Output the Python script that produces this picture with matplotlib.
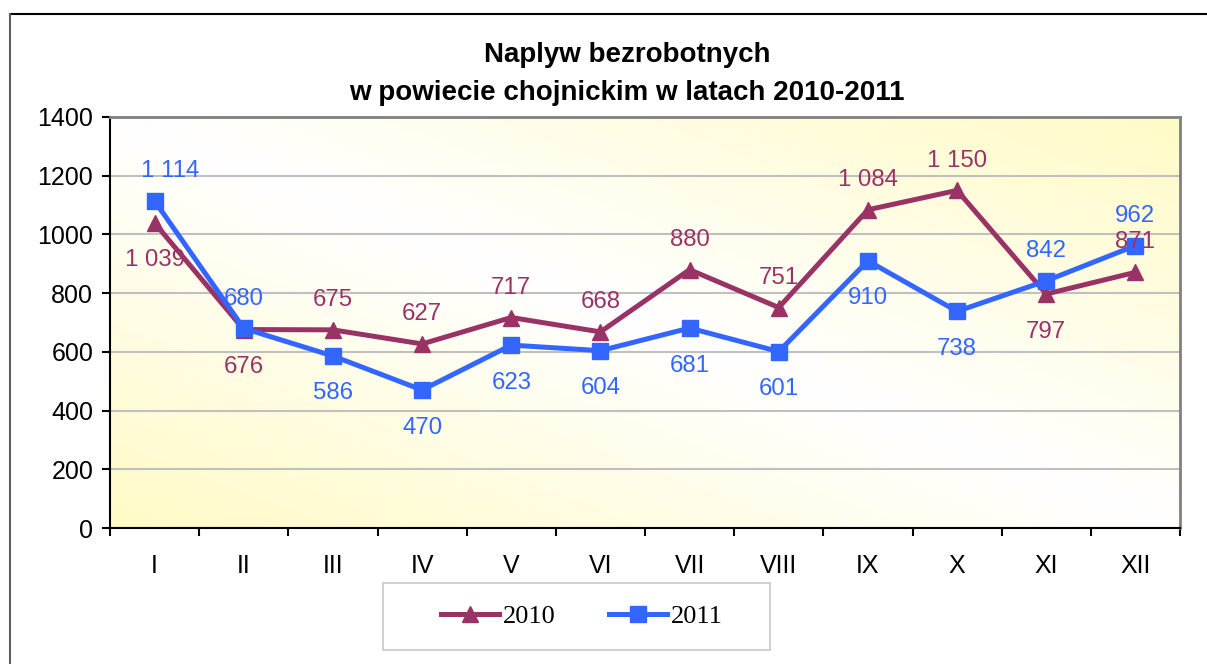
import numpy as np
import matplotlib
matplotlib.use('Agg')
import matplotlib.pyplot as plt
from matplotlib.lines import Line2D
from matplotlib.patches import Rectangle

plt.rcParams['font.family'] = ['Liberation Sans', 'DejaVu Sans']

months = ['I', 'II', 'III', 'IV', 'V', 'VI', 'VII', 'VIII', 'IX', 'X', 'XI', 'XII']
v2010 = [1039, 676, 675, 627, 717, 668, 880, 751, 1084, 1150, 797, 871]
v2011 = [1114, 680, 586, 470, 623, 604, 681, 601, 910, 738, 842, 962]
# label above (1) or below (-1) the point
pos2010 = [-1, -1, 1, 1, 1, 1, 1, 1, 1, 1, -1, 1]
pos2011 = [1, 1, -1, -1, -1, -1, -1, -1, -1, -1, 1, 1]

c2010 = '#993366'
c2011 = '#3366FF'

W, H = 1207, 664
fig = plt.figure(figsize=(W/100, H/100), dpi=100)
ax = fig.add_axes([110/W, 136/H, 1070/W, 411/H])

# diagonal gradient background: yellow in bottom-left and top-right corners
n = 200
gx, gy = np.meshgrid(np.linspace(0, 1, n), np.linspace(0, 1, n))
d = np.abs(gx + gy - 1)
yel = np.array([255, 251, 198]) / 255
img = np.ones((n, n, 3)) * (1 - d[..., None]) + yel * d[..., None]
ax.imshow(img, extent=[0, 1, 0, 1], transform=ax.transAxes, origin='lower',
          aspect='auto', zorder=0)

x = np.arange(len(months))
ax.set_xlim(-0.5, 11.5)
ax.set_ylim(0, 1400)
ax.set_yticks(range(0, 1401, 200))
ax.grid(axis='y', color='#C0C0C0', lw=1.5, zorder=1)
ax.set_axisbelow(True)

ax.plot(x, v2010, color=c2010, lw=3.6, marker='^', ms=11, zorder=3, label='2010')
ax.plot(x, v2011, color=c2011, lw=3.6, marker='s', ms=11, zorder=4, label='2011')

def fmt(v):
    return f'{v:,}'.replace(',', ' ')

for i, (v, p) in enumerate(zip(v2010, pos2010)):
    ax.annotate(fmt(v), (i, v), xytext=(0, 21.5 if p > 0 else -27),
                textcoords='offset points', ha='center', va='center',
                color=c2010, fontsize=17.3, zorder=5)
for i, (v, p) in enumerate(zip(v2011, pos2011)):
    dx = 11.5 if i == 0 else 0
    ax.annotate(fmt(v), (i, v), xytext=(dx, 21.5 if p > 0 else -27),
                textcoords='offset points', ha='center', va='center',
                color=c2011, fontsize=17.3, zorder=5)

ax.set_xticks(x)
ax.set_xticklabels(months)
ax.set_xticks(np.arange(-0.5, 12, 1), minor=True)
ax.tick_params(axis='x', which='major', length=0, pad=19, labelsize=18)
ax.tick_params(axis='x', which='minor', length=6, width=1.5, direction='out')
ax.tick_params(axis='y', length=6, width=1.5, labelsize=18, pad=6)

for s in ['left', 'bottom']:
    ax.spines[s].set_color('black')
    ax.spines[s].set_linewidth(1.5)
for s in ['top', 'right']:
    ax.spines[s].set_color('#808080')
    ax.spines[s].set_linewidth(2)

fig.text(627/W, 1 - 55/H, 'Naplyw bezrobotnych', ha='center', va='center',
         fontsize=20, fontweight='bold')
fig.text(627/W, 1 - 93/H, 'w powiecie chojnickim w latach 2010-2011',
         ha='center', va='center', fontsize=20, fontweight='bold')

# outer frame
fig.add_artist(Line2D([10/W, 1], [1 - 14/H, 1 - 14/H], color='black', lw=1.5,
                      transform=fig.transFigure))
fig.add_artist(Line2D([10/W, 10/W], [0, 1 - 14/H], color='#606060', lw=1.5,
                      transform=fig.transFigure))

# legend box drawn separately so its margins can match
fig.add_artist(Rectangle((383/W, 1 - 650/H), 387/W, 67/H, transform=fig.transFigure,
                         fill=False, edgecolor='#C8C8C8', lw=1.2))
fig.legend(loc='center', bbox_to_anchor=(582/W, 1 - 616/H), ncol=2,
           frameon=False, prop={'family': 'Liberation Serif', 'size': 19},
           handlelength=2.2, columnspacing=2.0, borderpad=0,
           handletextpad=0.15, borderaxespad=0)

fig.savefig('out.png', dpi=100)
